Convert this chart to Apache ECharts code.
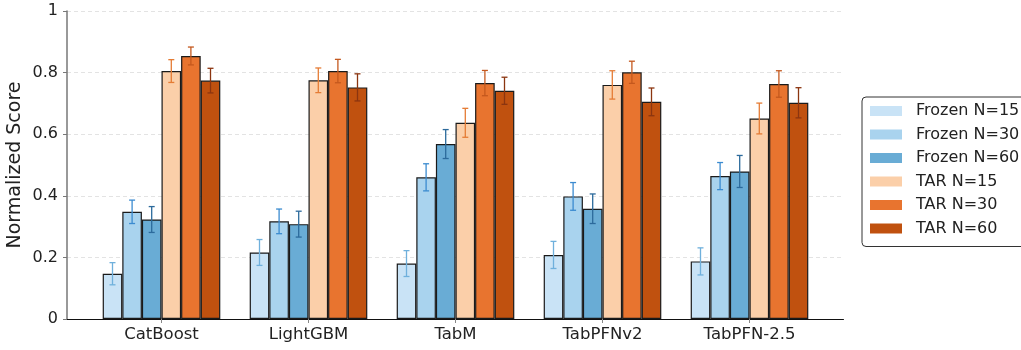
<!DOCTYPE html>
<html>
<head>
<meta charset="utf-8">
<script src="https://cdn.jsdelivr.net/npm/echarts@6/dist/echarts.min.js"></script>
<style>html,body{margin:0;padding:0;background:#fff;}#c{width:1021px;height:350px;}</style>
</head>
<body>
<div id="c"></div>
<script>
const categories = ['CatBoost', 'LightGBM', 'TabM', 'TabPFNv2', 'TabPFN-2.5'];
const seriesNames = ['Frozen N=15', 'Frozen N=30', 'Frozen N=60', 'TAR N=15', 'TAR N=30', 'TAR N=60'];
const yTicks = [0, 0.2, 0.4, 0.6, 0.8, 1];

const frozen15 = [0.147, 0.216, 0.180, 0.208, 0.187];
const frozen15Err = [0.036, 0.042, 0.042, 0.044, 0.044];
const frozen30 = [0.348, 0.317, 0.460, 0.398, 0.464];
const frozen30Err = [0.038, 0.040, 0.044, 0.045, 0.044];
const frozen60 = [0.323, 0.308, 0.568, 0.358, 0.479];
const frozen60Err = [0.042, 0.042, 0.047, 0.048, 0.052];
const tar15 = [0.805, 0.775, 0.637, 0.760, 0.651];
const tar15Err = [0.037, 0.040, 0.047, 0.046, 0.050];
const tar30 = [0.854, 0.805, 0.766, 0.801, 0.763];
const tar30Err = [0.029, 0.038, 0.041, 0.036, 0.043];
const tar60 = [0.774, 0.752, 0.741, 0.705, 0.702];
const tar60Err = [0.040, 0.044, 0.044, 0.045, 0.049];

const values = [frozen15, frozen30, frozen60, tar15, tar30, tar60];
const errors = [frozen15Err, frozen30Err, frozen60Err, tar15Err, tar30Err, tar60Err];
const barColors = ['#c9e3f6', '#a9d3ee', '#69acd5', '#fbcfa9', '#e8742f', '#c0510f'];
const errColors = ['#6fb0dc', '#3b8bd0', '#2c6a9c', '#e57c35', '#c4581e', '#8b3510'];

const FONT = 'DejaVu Sans';
const nS = seriesNames.length;

const series = [];
seriesNames.forEach((name, i) => {
  series.push({
    name: name,
    type: 'bar',
    xAxisIndex: 0, yAxisIndex: 0,
    data: values[i],
    barGap: '0%',
    barCategoryGap: '20%',
    itemStyle: { color: barColors[i], borderColor: '#1a1a1a', borderWidth: 1.2 },
    z: 2
  });
});
seriesNames.forEach((name, i) => {
  series.push({
    name: name + ' err',
    type: 'custom',
    xAxisIndex: 0, yAxisIndex: 0,
    data: values[i].map((v, k) => [k, v, errors[i][k]]),
    z: 5,
    silent: true,
    renderItem: function (params, api) {
      const idx = api.value(0), v = api.value(1), e = api.value(2);
      const band = api.size([1, 0])[0];
      const bw = band * 0.8 / nS;
      const x = api.coord([idx, 0])[0] + (i - (nS - 1) / 2) * bw;
      const yt = api.coord([idx, v + e])[1];
      const yb = api.coord([idx, v - e])[1];
      const cap = 3;
      const st = { stroke: errColors[i], lineWidth: 1.3 };
      return {
        type: 'group',
        children: [
          { type: 'line', shape: { x1: x, y1: yt, x2: x, y2: yb }, style: st },
          { type: 'line', shape: { x1: x - cap, y1: yt, x2: x + cap, y2: yt }, style: st },
          { type: 'line', shape: { x1: x - cap, y1: yb, x2: x + cap, y2: yb }, style: st }
        ]
      };
    }
  });
});

const chart = echarts.init(document.getElementById('c'), null, { renderer: 'canvas' });
chart.setOption({
  animation: false,
  backgroundColor: '#fff',
  textStyle: { fontFamily: FONT },
  grid: [
    { left: 88, right: 198, top: 11, bottom: 31, containLabel: false, outerBoundsMode: 'none' },
    { left: 67, right: 177.5, top: 11, bottom: 31, containLabel: false, outerBoundsMode: 'none' }
  ],
  legend: {
    data: seriesNames,
    orient: 'vertical',
    left: 862, top: 97,
    padding: [6, 40, 10, 8],
    itemWidth: 32, itemHeight: 10, itemGap: 7.5,
    icon: 'rect',
    itemStyle: { borderWidth: 0 },
    borderColor: '#333', borderWidth: 1, borderRadius: 4,
    textStyle: { fontFamily: FONT, fontSize: 16, color: '#222', lineHeight: 16, padding: [0, 0, 0, 9] }
  },
  xAxis: [
    {
      type: 'category', gridIndex: 0, data: categories,
      axisLine: { show: false },
      axisTick: { show: true, alignWithLabel: true, length: 4, lineStyle: { color: '#888' } },
      axisLabel: { fontFamily: FONT, fontSize: 16.5, color: '#222', margin: 7 }
    },
    {
      type: 'value', gridIndex: 1, min: 0, max: 1,
      axisLine: { show: true, onZero: false, lineStyle: { color: '#111', width: 1 } },
      axisTick: { show: false }, axisLabel: { show: false }, splitLine: { show: false }
    }
  ],
  yAxis: [
    {
      type: 'value', gridIndex: 0, min: 0, max: 1,
      axisLine: { show: false }, axisTick: { show: false }, axisLabel: { show: false }, splitLine: { show: false }
    },
    {
      type: 'value', gridIndex: 1, min: 0, max: 1, interval: 0.2,
      name: 'Normalized Score', nameLocation: 'middle', nameGap: 42, nameMoveOverlap: false,
      nameTextStyle: { fontFamily: FONT, fontSize: 19, color: '#222' },
      axisLine: { show: true, lineStyle: { color: '#777', width: 1.5 } },
      axisTick: { show: true, length: 4, lineStyle: { color: '#777' } },
      axisLabel: { fontFamily: FONT, fontSize: 16, color: '#222', margin: 9,
        formatter: v => { const t = yTicks.find(k => Math.abs(k - v) < 1e-9); return t === 0 ? '0' : t === 1 ? '1' : (t !== undefined ? t.toFixed(1) : ''); } },
      splitLine: { show: true, lineStyle: { color: '#e3e3e3', type: [4, 3], width: 1 } }
    }
  ],
  series: series
});
</script>
</body>
</html>
